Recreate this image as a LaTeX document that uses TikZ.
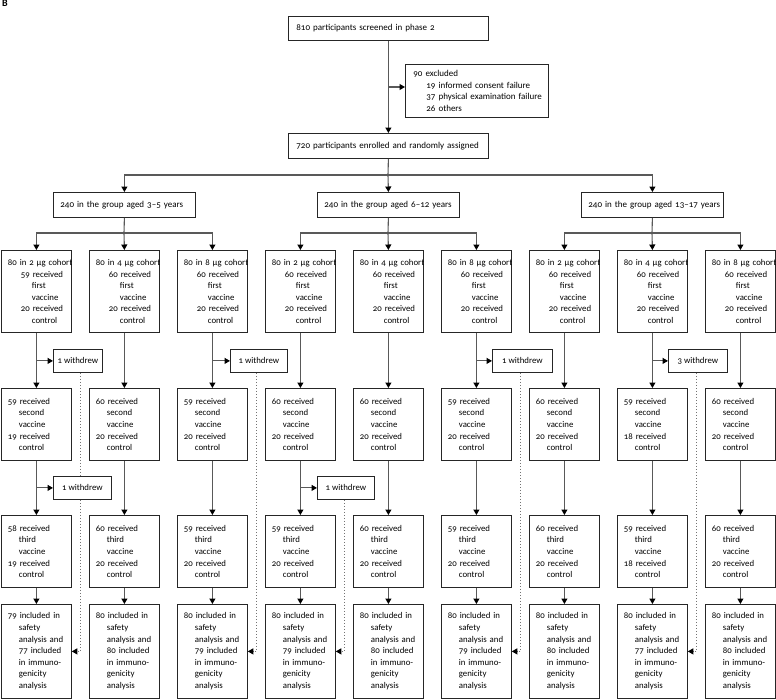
\documentclass[tikz,border=0pt]{standalone}
\usepackage{fontspec}
\setmainfont{Carlito}[Numbers=OldStyle]
\usetikzlibrary{arrows.meta}
\newcommand\fs{\fontsize{8.8}{11.6}\selectfont}
\newcommand\fsT{\fontsize{9}{11.7}\selectfont}
\newcommand\mbl[1]{\mbox{#1}}
\newcommand\iA{\hspace*{13pt}}
\newcommand\iB{\hspace*{24pt}}
\newcommand\iC{\hspace*{11pt}}
\newcommand\firstTxt[3]{\mbl{80 in #1 µg cohort}\\\mbl{\iA#2 received}\\\mbl{\iB first}\\\mbl{\iB vaccine}\\\mbl{\iA#3 received}\\\mbl{\iB control}}
\newcommand\doseTxt[3]{\mbl{#1 received}\\\mbl{\iC#2}\\\mbl{\iC vaccine}\\\mbl{#3 received}\\\mbl{\iC control}}
\newcommand\inclTxt[2]{\mbl{#1 included in}\\\mbl{\iC safety}\\\mbl{\iC analysis and}\\\mbl{\iC#2 included}\\\mbl{\iC in immuno-}\\\mbl{\iC genicity}\\\mbl{\iC analysis}}
\tikzset{
 box/.style={draw=black!85, line width=0.8pt, fill=white, inner ysep=0pt, inner xsep=6.5pt, font=\fs, align=left, anchor=north west},
 tbox/.style={box, font=\fsT},
 cbox/.style={box, text width=57pt},
 wbox/.style={box, inner xsep=4pt, minimum height=23pt},
 conn/.style={draw=black!65, line width=1.1pt, -{Triangle[length=5.5pt,width=6pt,color=black]}},
 plain/.style={draw=black!65, line width=1.1pt},
 dconn/.style={draw=black!55, line width=1pt, dotted, -{Triangle[length=5.5pt,width=6pt,color=black]}},
 dline/.style={draw=black!55, line width=1pt, dotted},
}
\begin{document}
\begin{tikzpicture}[x=1pt,y=-1pt]
\useasboundingbox (0,0) rectangle (776,699);
\node[font=\fontsize{10}{12}\selectfont\bfseries, anchor=north west, inner sep=0pt] (lbl) at (2,0) {B};
% top
\node[tbox, inner xsep=8pt, text width=184pt, minimum height=24pt] (screen) at (288,16) {\mbl{810 participants screened in phase 2}};
\node[tbox, inner xsep=8pt, text width=127pt, minimum height=53pt] (excl) at (405,64) {\mbl{90 excluded}\\\mbl{\iA 19 informed consent failure}\\\mbl{\iA 37 physical examination failure}\\\mbl{\iA 26 others}};
\node[tbox, inner xsep=8pt, text width=184pt, minimum height=25pt] (enrolled) at (288,133) {\mbl{720 participants enrolled and randomly assigned}};
\node[tbox, inner xsep=7pt, text width=128pt, minimum height=25pt] (g1) at (53,192) {\mbl{240 in the group aged 3–5 years}};
\node[tbox, inner xsep=7pt, text width=128pt, minimum height=25pt] (g2) at (317,192) {\mbl{240 in the group aged 6–12 years}};
\node[tbox, inner xsep=7pt, text width=128pt, minimum height=25pt] (g3) at (581,192) {\mbl{240 in the group aged 13–17 years}};
% row 1
\node[cbox, minimum height=82pt] (r1-1) at (1,250) {\firstTxt{2}{59}{20}};
\node[cbox, minimum height=82pt] (r1-2) at (89,250) {\firstTxt{4}{60}{20}};
\node[cbox, minimum height=82pt] (r1-3) at (177,250) {\firstTxt{8}{60}{20}};
\node[cbox, minimum height=82pt] (r1-4) at (265,250) {\firstTxt{2}{60}{20}};
\node[cbox, minimum height=82pt] (r1-5) at (353,250) {\firstTxt{4}{60}{20}};
\node[cbox, minimum height=82pt] (r1-6) at (441,250) {\firstTxt{8}{60}{20}};
\node[cbox, minimum height=82pt] (r1-7) at (529,250) {\firstTxt{2}{60}{20}};
\node[cbox, minimum height=82pt] (r1-8) at (617,250) {\firstTxt{4}{60}{20}};
\node[cbox, minimum height=82pt] (r1-9) at (705,250) {\firstTxt{8}{60}{20}};
% row 2
\node[cbox, minimum height=72pt] (r2-1) at (1,388) {\doseTxt{59}{second}{19}};
\node[cbox, minimum height=72pt] (r2-2) at (89,388) {\doseTxt{60}{second}{20}};
\node[cbox, minimum height=72pt] (r2-3) at (177,388) {\doseTxt{59}{second}{20}};
\node[cbox, minimum height=72pt] (r2-4) at (265,388) {\doseTxt{60}{second}{20}};
\node[cbox, minimum height=72pt] (r2-5) at (353,388) {\doseTxt{60}{second}{20}};
\node[cbox, minimum height=72pt] (r2-6) at (441,388) {\doseTxt{59}{second}{20}};
\node[cbox, minimum height=72pt] (r2-7) at (529,388) {\doseTxt{60}{second}{20}};
\node[cbox, minimum height=72pt] (r2-8) at (617,388) {\doseTxt{59}{second}{18}};
\node[cbox, minimum height=72pt] (r2-9) at (705,388) {\doseTxt{60}{second}{20}};
% row 3
\node[cbox, minimum height=72pt] (r3-1) at (1,515) {\doseTxt{58}{third}{19}};
\node[cbox, minimum height=72pt] (r3-2) at (89,515) {\doseTxt{60}{third}{20}};
\node[cbox, minimum height=72pt] (r3-3) at (177,515) {\doseTxt{59}{third}{20}};
\node[cbox, minimum height=72pt] (r3-4) at (265,515) {\doseTxt{59}{third}{20}};
\node[cbox, minimum height=72pt] (r3-5) at (353,515) {\doseTxt{60}{third}{20}};
\node[cbox, minimum height=72pt] (r3-6) at (441,515) {\doseTxt{59}{third}{20}};
\node[cbox, minimum height=72pt] (r3-7) at (529,515) {\doseTxt{60}{third}{20}};
\node[cbox, minimum height=72pt] (r3-8) at (617,515) {\doseTxt{59}{third}{18}};
\node[cbox, minimum height=72pt] (r3-9) at (705,515) {\doseTxt{60}{third}{20}};
% row 4
\node[cbox, minimum height=94pt] (r4-1) at (1,604) {\inclTxt{79}{77}};
\node[cbox, minimum height=94pt] (r4-2) at (89,604) {\inclTxt{80}{80}};
\node[cbox, minimum height=94pt] (r4-3) at (177,604) {\inclTxt{80}{79}};
\node[cbox, minimum height=94pt] (r4-4) at (265,604) {\inclTxt{80}{79}};
\node[cbox, minimum height=94pt] (r4-5) at (353,604) {\inclTxt{80}{80}};
\node[cbox, minimum height=94pt] (r4-6) at (441,604) {\inclTxt{80}{79}};
\node[cbox, minimum height=94pt] (r4-7) at (529,604) {\inclTxt{80}{80}};
\node[cbox, minimum height=94pt] (r4-8) at (617,604) {\inclTxt{80}{77}};
\node[cbox, minimum height=94pt] (r4-9) at (705,604) {\inclTxt{80}{80}};
% withdrawals
\node[wbox, minimum width=49pt] (w2-1) at (53,349) {1 withdrew};
\node[wbox, minimum width=57pt] (w2-3) at (230,349) {1 withdrew};
\node[wbox, minimum width=60pt] (w2-6) at (492,349) {1 withdrew};
\node[wbox, minimum width=59pt] (w2-8) at (668,349) {3 withdrew};
\node[wbox, minimum width=58pt] (w3-1) at (53,476) {1 withdrew};
\node[wbox, minimum width=57pt] (w3-4) at (317,476) {1 withdrew};
% top connectors
\draw[conn] (screen) -- (enrolled);
\coordinate (xb) at (388,87);
\draw[conn] (xb) -- (xb -| excl.west);
\coordinate (h0) at (388,175);
\draw[plain] (enrolled.south) -- (h0);
\draw[conn] (h0) -| (g1.north);
\draw[conn] (h0) -- (g2.north);
\draw[conn] (h0) -| (g3.north);
% group to cohorts
\coordinate (h1) at (124,233);
\coordinate (h2) at (388,233);
\coordinate (h3) at (652,233);
\draw[plain] (g1.south) -- (h1);
\draw[plain] (g2.south) -- (h2);
\draw[plain] (g3.south) -- (h3);
\draw[conn] (h1) -| (r1-1.north);
\draw[conn] (h1) -- (r1-2.north);
\draw[conn] (h1) -| (r1-3.north);
\draw[conn] (h2) -| (r1-4.north);
\draw[conn] (h2) -- (r1-5.north);
\draw[conn] (h2) -| (r1-6.north);
\draw[conn] (h3) -| (r1-7.north);
\draw[conn] (h3) -- (r1-8.north);
\draw[conn] (h3) -| (r1-9.north);
% vertical flow
\foreach \k in {1,...,9}{
  \draw[conn] (r1-\k) -- (r2-\k);
  \draw[conn] (r2-\k) -- (r3-\k);
  \draw[conn] (r3-\k) -- (r4-\k);
}
% withdrawal arrows
\draw[conn] (r1-1.south |- w2-1.west) -- (w2-1.west);
\draw[conn] (r1-3.south |- w2-3.west) -- (w2-3.west);
\draw[conn] (r1-6.south |- w2-6.west) -- (w2-6.west);
\draw[conn] (r1-8.south |- w2-8.west) -- (w2-8.west);
\draw[conn] (r2-1.south |- w3-1.west) -- (w3-1.west);
\draw[conn] (r2-4.south |- w3-4.west) -- (w3-4.west);
% dotted
\coordinate (d1) at ([xshift=9pt]r4-1.east);
\coordinate (d3) at ([xshift=9pt]r4-3.east);
\coordinate (d4) at ([xshift=9pt]r4-4.east);
\coordinate (d6) at ([xshift=9pt]r4-6.east);
\coordinate (d8) at ([xshift=9pt]r4-8.east);
\draw[dline] (d1 |- w2-1.south) -- (d1 |- w3-1.north);
\draw[dconn] (d1 |- w3-1.south) |- (r4-1.east);
\draw[dconn] (d3 |- w2-3.south) |- (r4-3.east);
\draw[dconn] (d4 |- w3-4.south) |- (r4-4.east);
\draw[dconn] (d6 |- w2-6.south) |- (r4-6.east);
\draw[dconn] (d8 |- w2-8.south) |- (r4-8.east);
\end{tikzpicture}
\end{document}
